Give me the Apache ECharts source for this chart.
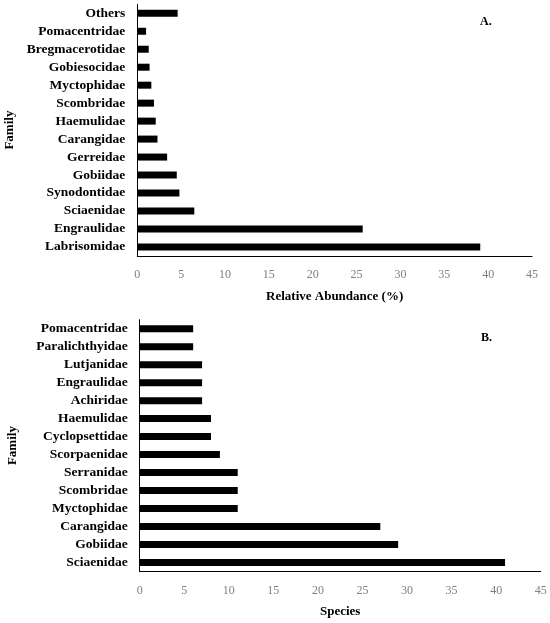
<!DOCTYPE html>
<html>
<head>
<meta charset="utf-8">
<style>
  html, body { margin: 0; padding: 0; background: #fff; }
  #container { width: 550px; height: 623px; }
</style>
<script src="https://cdn.jsdelivr.net/npm/echarts@6/dist/echarts.min.js"></script>
</head>
<body>
<div id="container"></div>
<script>
// panel A: relative abundance by family (top to bottom as drawn)
var familiesA = ['Others', 'Pomacentridae', 'Bregmacerotidae', 'Gobiesocidae', 'Myctophidae',
    'Scombridae', 'Haemulidae', 'Carangidae', 'Gerreidae', 'Gobiidae', 'Synodontidae',
    'Sciaenidae', 'Engraulidae', 'Labrisomidae'];
var abundanceA = [4.6, 1.0, 1.3, 1.4, 1.6, 1.9, 2.1, 2.3, 3.4, 4.5, 4.8, 6.5, 25.7, 39.1];

// panel B: number of species by family
var familiesB = ['Pomacentridae', 'Paralichthyidae', 'Lutjanidae', 'Engraulidae', 'Achiridae',
    'Haemulidae', 'Cyclopsettidae', 'Scorpaenidae', 'Serranidae', 'Scombridae', 'Myctophidae',
    'Carangidae', 'Gobiidae', 'Sciaenidae'];
var speciesB = [6, 6, 7, 7, 7, 8, 8, 9, 11, 11, 11, 27, 29, 41];

var xTicks = [0, 5, 10, 15, 20, 25, 30, 35, 40, 45];

var serif = 'Liberation Serif';

var dom = document.getElementById('container');
var myChart = echarts.init(dom);

function valueAxis(idx, name) {
    return {
        type: 'value',
        gridIndex: idx,
        min: xTicks[0],
        max: xTicks[xTicks.length - 1],
        interval: xTicks[1] - xTicks[0],
        name: name,
        nameLocation: 'middle',
        nameGap: 34,
        nameTextStyle: { fontFamily: serif, fontWeight: 'bold', fontSize: 13, color: '#000' },
        axisLine: { show: true, lineStyle: { color: '#000', width: 1 } },
        axisTick: { show: false },
        splitLine: { show: false },
        axisLabel: { fontFamily: serif, fontSize: 12, color: '#7f7f7f', margin: 13 }
    };
}

function catAxis(idx, data) {
    return {
        type: 'category',
        gridIndex: idx,
        data: data,
        inverse: true,
        name: 'Family',
        nameLocation: 'middle',
        nameRotate: 90,
        nameGap: 121,
        nameTextStyle: { fontFamily: serif, fontWeight: 'bold', fontSize: 13, color: '#000' },
        axisLine: { show: true, lineStyle: { color: '#000', width: 1 } },
        axisTick: { show: false },
        axisLabel: { interval: 0, fontFamily: serif, fontWeight: 'bold', fontSize: 13.5, color: '#000', margin: 12 }
    };
}

option = {
    animation: false,
    backgroundColor: '#fff',
    grid: [
        { left: 137.3, right: 18, top: 4.3, height: 251.6, containLabel: false, outerBoundsMode: 'none' },
        { left: 139.7, right: 9.3, top: 319.7, height: 251.8, containLabel: false, outerBoundsMode: 'none' }
    ],
    xAxis: [valueAxis(0, 'Relative Abundance (%)'), valueAxis(1, 'Species')],
    yAxis: [catAxis(0, familiesA), catAxis(1, familiesB)],
    graphic: [
        { type: 'text', left: 480, top: 16, style: { text: 'A.', font: 'bold 12px "Liberation Serif"', fill: '#000' } },
        { type: 'text', left: 481, top: 332, style: { text: 'B.', font: 'bold 12px "Liberation Serif"', fill: '#000' } }
    ],
    series: [
        {
            name: 'Relative Abundance',
            type: 'bar',
            xAxisIndex: 0,
            yAxisIndex: 0,
            barWidth: 7,
            itemStyle: { color: '#000' },
            data: abundanceA
        },
        {
            name: 'Species',
            type: 'bar',
            xAxisIndex: 1,
            yAxisIndex: 1,
            barWidth: 7,
            itemStyle: { color: '#000' },
            data: speciesB
        }
    ]
};

if (option && typeof option === 'object') {
    myChart.setOption(option, true);
}
</script>
</body>
</html>
